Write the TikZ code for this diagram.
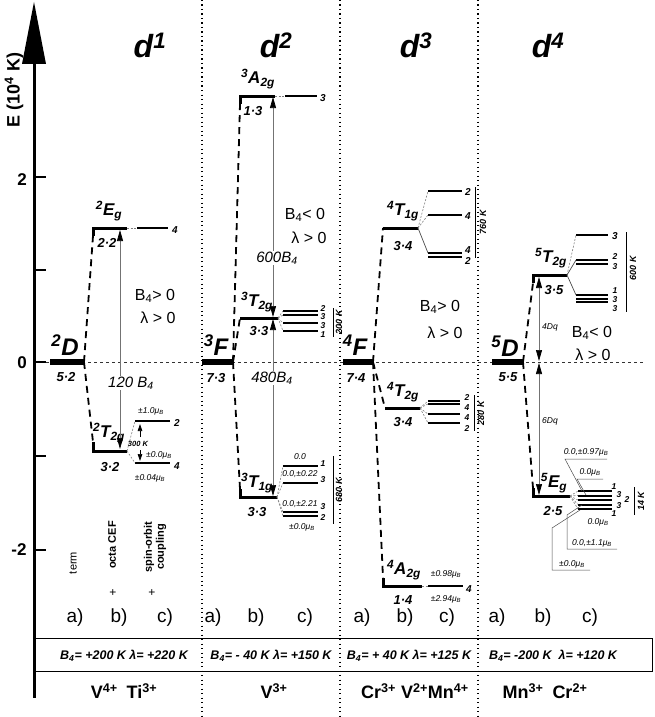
\documentclass[tikz,border=0pt]{standalone}
\usepackage{fontspec}
\setmainfont{Liberation Sans}
\usetikzlibrary{arrows.meta}
\tikzset{
  term/.style={line width=5.5pt},
  lev/.style={line width=3pt, line join=miter},
  slev/.style={line width=2pt},
  dashc/.style={line width=1.8pt, dash pattern=on 7pt off 5pt},
  gdash/.style={line width=0.6pt, gray, dash pattern=on 2pt off 1.5pt},
  glink/.style={line width=0.7pt, black!70},
  sepline/.style={line width=1.3pt, dash pattern=on 1.3pt off 3.2pt},
  zeroline/.style={line width=0.9pt, black!80, dash pattern=on 3pt off 3pt},
  garr/.style={line width=0.7pt, black!55, {Triangle[width=6pt,length=11pt,color=black]}-{Triangle[width=6pt,length=11pt,color=black]}},
  sarr/.style={line width=0.7pt, -{Triangle[width=4.5pt,length=7pt]}},
  brk/.style={line width=0.8pt},
  lead/.style={line width=0.5pt, black!70},
  title/.style={font=\fontsize{32}{32}\selectfont\bfseries\itshape},
  tname/.style={font=\fontsize{24}{24}\selectfont\bfseries\itshape},
  lname/.style={font=\fontsize{17}{17}\selectfont\bfseries\itshape},
  deg/.style={font=\fontsize{13}{13}\selectfont\bfseries\itshape},
  num/.style={font=\fontsize{10}{10}\selectfont\bfseries\itshape},
  numsm/.style={font=\fontsize{8.5}{8.5}\selectfont\bfseries\itshape},
  cond/.style={font=\fontsize{16}{16}\selectfont},
  ecv/.style={font=\fontsize{15}{15}\selectfont\itshape},
  mu/.style={font=\fontsize{8.5}{8.5}\selectfont\itshape},
  kel/.style={font=\fontsize{9}{9}\selectfont\bfseries\itshape, rotate=90},
  abc/.style={font=\fontsize{19}{19}\selectfont},
  boxt/.style={font=\fontsize{12.5}{12.5}\selectfont\bfseries\itshape},
  ion/.style={font=\fontsize{18}{18}\selectfont\bfseries},
  axl/.style={font=\fontsize{17}{17}\selectfont\bfseries},
  rot/.style={font=\fontsize{11}{12}\selectfont\bfseries, rotate=90, align=center},
}
\begin{document}
\begin{tikzpicture}[x=1pt,y=-1pt, every node/.style={inner sep=0pt}]
\useasboundingbox (0,0) rectangle (654,717);
% separators and zero line
\foreach \x in {202,340,478} \draw[sepline] (\x,0) -- (\x,717);
\draw[zeroline] (40,362) -- (645,362);
% axis
\draw[line width=3pt] (34,55) -- (34,698);
\fill (34,2) -- (22,64) -- (46,64) -- cycle;
\foreach \y in {177,270,362,456,550} \draw[line width=2.5pt] (34,\y) -- (46,\y);
\node[axl] (y2) at (22,180) {2};
\node[axl] (y0) at (22,363) {0};
\node[axl] (ym2) at (19,550) {-2};
\node[font=\fontsize{18}{18}\selectfont\bfseries, rotate=90] (ax) at (14,90) {E (10\textsuperscript{4} K)};
% bottom box
\draw[line width=1pt] (34,638) -- (652,638) -- (652,671) -- (34,671);
\node[boxt] (bx1) at (124,656) {B\textsubscript{4}= +200 K\ λ= +220 K};
\node[boxt] (bx2) at (271,656) {B\textsubscript{4}= - 40 K\ λ= +150 K};
\node[boxt] (bx3) at (409,656) {B\textsubscript{4}= + 40 K λ= +125 K};
\node[boxt] (bx4) at (553,656) {B\textsubscript{4}= -200 K\ \ λ= +120 K};
\node[ion] (io1) at (124,691) {V\textsuperscript{4+}\enspace Ti\textsuperscript{3+}};
\node[ion] (io2) at (274,691) {V\textsuperscript{3+}};
\node[ion] (io3) at (415,691) {Cr\textsuperscript{3+} V\textsuperscript{2+}Mn\textsuperscript{4+}};
\node[ion] (io4) at (545,691) {Mn\textsuperscript{3+}\enspace Cr\textsuperscript{2+}};
% titles
\node[title] (h1) at (150,45) {d\textsuperscript{1}};
\node[title] (h2) at (276,45) {d\textsuperscript{2}};
\node[title] (h3) at (416,45) {d\textsuperscript{3}};
\node[title] (h4) at (548,45) {d\textsuperscript{4}};
% a) b) c)
\foreach \x/\t [count=\i] in {75/a),119/b),165/c),213/a),256/b),305/c),362/a),405/b),447/c),497/a),543/b),590/c)}
  \node[abc] (abc\i) at (\x,618) {\t};

% ================= d1 =================
\draw[term] (50,362) coordinate (D1l) -- (84,362) coordinate (D1r);
\node[tname] (nD1) at (65,345) {\textsuperscript{2}D};
\node[deg] (gD1) at (66,377) {5·2};
\coordinate (E1l) at (93,236); \coordinate (E1r) at (127,228);
\draw[lev] (E1l) |- (E1r);
\node[lname] (nE1) at (109,211) {\textsuperscript{2}E\textsubscript{g}};
\node[deg] (gE1) at (107,243) {2·2};
\coordinate (E1s) at (137,228); \coordinate (E1e) at (168,228);
\draw[gdash] (E1r) -- (E1s);
\draw[slev] (E1s) -- (E1e);
\node[num] (q1) at (175,230) {4};
\coordinate (T1l) at (93,442); \coordinate (T1r) at (127,451);
\draw[lev] (T1l) |- (T1r);
\node[lname] (nT1) at (109,433) {\textsuperscript{2}T\textsubscript{2g}};
\node[deg] (gT1) at (110,467) {3·2};
\coordinate (s1a) at (135,421); \coordinate (s1b) at (170,421);
\coordinate (s2a) at (135,463); \coordinate (s2b) at (170,463);
\draw[slev] (s1a) -- (s1b); \draw[slev] (s2a) -- (s2b);
\draw[gdash] (T1r) -- (s1a); \draw[gdash] (T1r) -- (s2a);
\node[num] (q2) at (177,423) {2};
\node[num] (q3) at (177,466) {4};
\node[mu] (m1) at (151,411) {±1.0μ\textsubscript{B}};
\node[mu] (m2) at (159,455) {±0.0μ\textsubscript{B}};
\node[mu] (m3) at (150,478) {±0.04μ\textsubscript{B}};
\node[font=\fontsize{7.5}{7.5}\selectfont\bfseries\itshape] (k300) at (138,444) {300 K};
\coordinate (ar1) at (140,437); \coordinate (ar2) at (140,424);
\coordinate (ar3) at (140,450); \coordinate (ar4) at (140,461);
\draw[sarr] (ar1) -- (ar2); \draw[sarr] (ar3) -- (ar4);
\coordinate (v1a) at (120,230); \coordinate (v1b) at (120,449);
\draw[garr] (v1b) -- (v1a);
\node[ecv, fill=white, inner sep=1pt] (e1) at (131,383) {120 B\textsubscript{4}};
\node[cond] (c1a) at (155,296) {B\textsubscript{4}> 0};
\node[cond] (c1b) at (158,318) {λ > 0};
\draw[dashc] (D1r) -- (E1l);
\draw[dashc] (D1r) -- (T1l);
\node[rot, font=\fontsize{11}{12}\selectfont] (r1) at (73,563) {term};
\node[rot] (r2) at (112,545) {octa CEF};
\node[font=\fontsize{12}{12}\selectfont] (p1) at (113,593) {+};
\node[rot] (r3) at (155,547) {spin-orbit\\coupling};
\node[font=\fontsize{12}{12}\selectfont] (p2) at (152,593) {+};

% ================= d2 =================
\draw[term] (202,362) coordinate (F2l) -- (233,362) coordinate (F2r);
\node[tname] (nF2) at (216,345) {\textsuperscript{3}F};
\node[deg] (gF2) at (216,378) {7·3};
\coordinate (A2l) at (240,104); \coordinate (A2r) at (275,96);
\draw[lev] (A2l) |- (A2r);
\node[lname] (nA2) at (258,79) {\textsuperscript{3}A\textsubscript{2g}};
\node[deg] (gA2) at (253,111) {1·3};
\coordinate (A2s) at (285,96); \coordinate (A2e) at (317,96);
\draw[gdash] (A2r) -- (A2s); \draw[slev] (A2s) -- (A2e);
\node[num] (q4) at (323,98) {3};
\coordinate (U2l) at (240,318); \coordinate (U2r) at (278,318);
\draw[lev] (U2l) -- (U2r);
\node[lname] (nU2) at (257,302) {\textsuperscript{3}T\textsubscript{2g}};
\node[deg] (gU2) at (259,331) {3·3};
\foreach \y/\d [count=\i] in {311/2,315/3,323/3,331/1} {
  \coordinate (u\i) at (283,\y);
  \draw[slev] (u\i) -- (318,\y);
  \draw[gdash] (U2r) -- (u\i);
}
\node[numsm] (q5) at (323,309) {2};
\node[numsm] (q6) at (323,317) {3};
\node[numsm] (q7) at (323,326) {3};
\node[numsm] (q8) at (323,335) {1};
\draw[brk] (333,308) -- (333,337);
\node[kel] (k200) at (339,322) {200 K};
\coordinate (L2l) at (240,489); \coordinate (L2r) at (277,497);
\draw[lev] (L2l) |- (L2r);
\node[lname] (nL2) at (257,483) {\textsuperscript{3}T\textsubscript{1g}};
\node[deg] (gL2) at (257,512) {3·3};
\foreach \y [count=\i] in {466,483,512,516} {
  \coordinate (w\i) at (283,\y);
  \draw[slev] (w\i) -- (318,\y);
  \draw[gdash] (L2r) -- (w\i);
}
\node[numsm] (q9) at (323,464) {1};
\node[numsm] (q10) at (323,480) {3};
\node[numsm] (q11) at (323,507) {3};
\node[numsm] (q12) at (323,518) {2};
\node[mu] (m4) at (300,457) {0.0};
\node[mu] (m5) at (300,474) {0.0,±0.22};
\node[mu] (m6) at (300,504) {0.0,±2.21};
\node[mu] (m7) at (302,527) {±0.0μ\textsubscript{B}};
\draw[brk] (333,456) -- (333,524);
\node[kel] (k680) at (339,490) {680 K};
\coordinate (v2a) at (273,97); \coordinate (v2b) at (273,317);
\coordinate (v2c) at (273,319); \coordinate (v2d) at (273,496);
\draw[garr] (v2b) -- (v2a);
\draw[garr] (v2c) -- (v2d);
\node[ecv, fill=white, inner sep=1pt] (e2) at (277,258) {600B\textsubscript{4}};
\node[ecv, fill=white, inner sep=1pt] (e3) at (272,378) {480B\textsubscript{4}};
\node[cond] (c2a) at (305,215) {B\textsubscript{4}< 0};
\node[cond] (c2b) at (309,238) {λ > 0};
\draw[dashc] (F2r) -- (A2l);
\draw[dashc] (F2r) -- (U2l);
\draw[dashc] (F2r) -- (L2l);

% ================= d3 =================
\draw[term] (343,362) coordinate (F3l) -- (373,362) coordinate (F3r);
\node[tname] (nF3) at (355,345) {\textsuperscript{4}F};
\node[deg] (gF3) at (356,378) {7·4};
\coordinate (P3l) at (383,228); \coordinate (P3r) at (418,228);
\draw[lev] (P3l) -- (P3r);
\node[lname] (nP3) at (403,211) {\textsuperscript{4}T\textsubscript{1g}};
\node[deg] (gP3) at (403,246) {3·4};
\foreach \y [count=\i] in {191,215,253,257} {
  \coordinate (p\i) at (428,\y);
  \draw[slev] (p\i) -- (462,\y);
}
\draw[gdash] (P3r) -- (p1); \draw[gdash] (P3r) -- (p2);
\draw[glink] (P3r) -- (p3);
\node[num] (q13) at (468,192) {2};
\node[num] (q14) at (468,216) {4};
\node[num] (q15) at (468,250) {4};
\node[num] (q16) at (468,261) {2};
\draw[brk] (475,187) -- (475,258);
\node[kel] (k760) at (483,222) {760 K};
\coordinate (Q3l) at (385,408); \coordinate (Q3r) at (420,408);
\draw[lev] (Q3l) -- (Q3r);
\node[lname] (nQ3) at (403,392) {\textsuperscript{4}T\textsubscript{2g}};
\node[deg] (gQ3) at (403,422) {3·4};
\foreach \y [count=\i] in {401,404,414,423} {
  \coordinate (o\i) at (428,\y);
  \draw[slev] (o\i) -- (460,\y);
  \draw[gdash] (Q3r) -- (o\i);
}
\node[numsm] (q17) at (467,398) {2};
\node[numsm] (q18) at (467,408) {4};
\node[numsm] (q19) at (467,418) {4};
\node[numsm] (q20) at (467,429) {2};
\draw[brk] (474,395) -- (474,431);
\node[kel] (k280) at (481,413) {280 K};
\coordinate (R3l) at (383,578); \coordinate (R3r) at (422,586);
\draw[lev] (R3l) |- (R3r);
\node[lname] (nR3) at (404,570) {\textsuperscript{4}A\textsubscript{2g}};
\node[deg] (gR3) at (403,600) {1·4};
\coordinate (R3s) at (428,586); \coordinate (R3e) at (463,586);
\draw[gdash] (R3r) -- (R3s); \draw[slev] (R3s) -- (R3e);
\node[mu] (m8) at (446,574) {±0.98μ\textsubscript{B}};
\node[mu] (m9) at (446,599) {±2.94μ\textsubscript{B}};
\node[num] (q21) at (469,589) {4};
\node[cond] (c3a) at (440,307) {B\textsubscript{4}> 0};
\node[cond] (c3b) at (445,333) {λ > 0};
\draw[dashc] (F3r) -- (P3l);
\draw[dashc] (F3r) -- (Q3l);
\draw[dashc] (F3r) -- (R3l);

% ================= d4 =================
\draw[term] (492,362) coordinate (D4l) -- (523,362) coordinate (D4r);
\node[tname] (nD4) at (505,346) {\textsuperscript{5}D};
\node[deg] (gD4) at (508,377) {5·5};
\coordinate (S4l) at (533,283); \coordinate (S4r) at (567,275);
\draw[lev] (S4l) |- (S4r);
\node[lname] (nS4) at (551,258) {\textsuperscript{5}T\textsubscript{2g}};
\node[deg] (gS4) at (554,290) {3·5};
\foreach \y [count=\i] in {235,260,264,295,298.5,302} {
  \coordinate (z\i) at (576,\y);
  \draw[slev] (z\i) -- (608,\y);
}
\draw[gdash] (S4r) -- (z1);
\draw[glink] (S4r) -- (z2);
\draw[glink] (S4r) -- (z4);
\node[num] (q22) at (615,236) {3};
\node[numsm] (q23) at (615,257) {2};
\node[numsm] (q24) at (615,267) {3};
\node[numsm] (q25) at (615,291) {1};
\node[numsm] (q26) at (615,300) {3};
\node[numsm] (q27) at (615,309) {3};
\draw[brk] (626,232) -- (626,312);
\node[kel] (k600) at (633,268) {600 K};
\coordinate (G4l) at (533,488); \coordinate (G4r) at (570,496);
\draw[lev] (G4l) |- (G4r);
\node[lname] (nG4) at (554,483) {\textsuperscript{5}E\textsubscript{g}};
\node[deg] (gG4) at (553,511) {2·5};
\foreach \y [count=\i] in {491,495.5,500,504.5,509} {
  \coordinate (g\i) at (578,\y);
  \draw[slev] (g\i) -- (612,\y);
  \draw[gdash] (G4r) -- (g\i);
}
\node[numsm] (q28) at (614,487) {1};
\node[numsm] (q29) at (619,495) {3};
\node[numsm] (q30) at (627,500) {2};
\node[numsm] (q31) at (619,506) {3};
\node[numsm] (q32) at (614,514) {1};
\draw[brk] (634,487) -- (634,515);
\node[kel] (k14) at (641,501) {14 K};
% annotations
\node[mu] (m10) at (586,452) {0.0,±0.97μ\textsubscript{B}};
\draw[lead] (607,459) -- (565,459) -- (582,491);
\node[mu] (m11) at (590,472) {0.0μ\textsubscript{B}};
\draw[lead] (603,479) -- (577,479) -- (586,495);
\node[mu] (m12) at (598,522) {0.0μ\textsubscript{B}};
\node[mu] (m13) at (592,543) {0.0,±1.1μ\textsubscript{B}};
\draw[lead] (617,549) -- (567,549) -- (567,515) -- (582,505);
\node[mu] (m14) at (572,564) {±0.0μ\textsubscript{B}};
\draw[lead] (590,570) -- (552,570) -- (552,528) -- (580,510);
\coordinate (v4a) at (539,277); \coordinate (v4b) at (539,361);
\coordinate (v4c) at (539,363); \coordinate (v4d) at (539,495);
\draw[garr] (v4b) -- (v4a);
\draw[garr] (v4c) -- (v4d);
\node[mu, anchor=west] (dq4) at (542,327) {4Dq};
\node[mu, anchor=west] (dq6) at (542,421) {6Dq};
\node[cond] (c4a) at (592,333) {B\textsubscript{4}< 0};
\node[cond] (c4b) at (593,355) {λ > 0};
\draw[dashc] (D4r) -- (S4l);
\draw[dashc] (D4r) -- (G4l);
\end{tikzpicture}
\end{document}
